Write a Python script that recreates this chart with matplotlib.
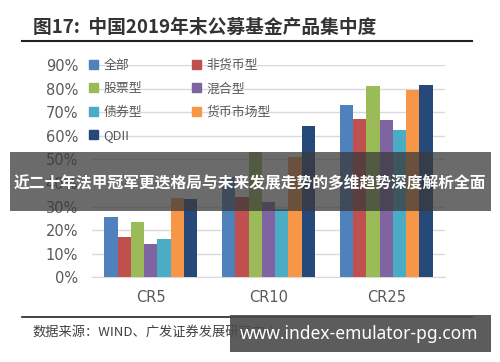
import matplotlib
matplotlib.use('Agg')
import matplotlib.pyplot as plt
import numpy as np
from matplotlib.patches import Rectangle, Patch
from matplotlib.lines import Line2D

plt.rcParams['font.family'] = ['Noto Sans CJK SC', 'DejaVu Sans']

categories = ['CR5', 'CR10', 'CR25']
series = ['全部', '非货币型', '股票型', '混合型', '债券型', '货币市场型', 'QDII']
values = [
    [25.4, 42.7, 73.2],   # 全部
    [17.0, 34.0, 67.0],   # 非货币型
    [23.4, 53.2, 81.2],   # 股票型
    [14.3, 32.0, 66.8],   # 混合型
    [16.3, 29.0, 62.5],   # 债券型
    [33.6, 51.0, 79.5],   # 货币市场型
    [33.0, 64.2, 81.6],   # QDII
]
colors = ['#4F81BD', '#C0504D', '#9BBB59', '#8064A2', '#4BACC6', '#F79646', '#27497A']
yticks = [0, 10, 20, 30, 40, 50, 60, 70, 80, 90]

fig = plt.figure(figsize=(5, 3.62), dpi=100)
ax = fig.add_axes([92/500, 1-277.3/362, 353/500, (277.3-65)/362])

x = np.arange(len(categories))
w = 0.113
for i, (name, vals) in enumerate(zip(series, values)):
    ax.bar(x + (i - 3) * w, vals, width=w, color=colors[i], label=name, zorder=3)

ax.set_xlim(-0.5, 2.5)
ax.set_ylim(0, 90)
ax.set_yticks(yticks)
ax.set_yticklabels([f'{t}%' for t in yticks], family='DejaVu Sans')
ax.set_xticks(x)
ax.set_xticklabels(categories, family='DejaVu Sans')
ax.tick_params(length=0, labelsize=10.5, colors='#595959')
ax.tick_params(axis='y', pad=10)
ax.tick_params(axis='x', pad=9)
ax.grid(axis='y', color='#D9D9D9', lw=1, zorder=0)
for s in ['top', 'right', 'left']:
    ax.spines[s].set_visible(False)
ax.spines['bottom'].set_color('#D9D9D9')

# legend in row-major order like the original
order = [0, 2, 4, 6, 1, 3, 5]
fig.legend([Patch(color=colors[k]) for k in order], [series[k] for k in order],
           ncol=2, loc='upper left', bbox_to_anchor=(89/500, 1-59/362),
           frameon=False, fontsize=9.3, handlelength=0.7, handleheight=0.7,
           handletextpad=0.4, labelspacing=0.8, columnspacing=3.9,
           borderpad=0, borderaxespad=0, labelcolor='#595959')

# title + rules
fig.text(33/500, 1-27/362, '图17:  中国2019年末公募基金产品集中度', fontsize=13.5,
         fontweight='bold', color='#333333', va='center')
fig.add_artist(Line2D([22/500, 472/500], [1-41/362, 1-41/362], color='#222222', lw=1.5))
fig.add_artist(Line2D([22/500, 472/500], [1-317/362, 1-317/362], color='#222222', lw=1.2))
fig.text(32/500, 1-332/362, '数据来源：WIND、广发证券发展研究中心', fontsize=9.5,
         color='#404040', va='center')

# overlay banner
fig.add_artist(Rectangle((10/500, 1-211/362), 481/500, 59/362, transform=fig.transFigure,
                         facecolor='#3a3a3a', alpha=0.75, edgecolor='none', zorder=10))
fig.text(250/500, 1-183/362, '近二十年法甲冠军更迭格局与未来发展走势的多维趋势深度解析全面',
         fontsize=11.3, fontweight='bold', color='white', ha='center', va='center', zorder=11)

# watermark
fig.add_artist(Rectangle((230/500, 1-352/362), 261/500, 37/362, transform=fig.transFigure,
                         facecolor='#4a4a4a', alpha=0.9, edgecolor='none', zorder=10))
fig.text(359/500, 1-334/362, 'www.index-emulator-pg.com', fontsize=12.5, fontweight='bold',
         color='white', ha='center', va='center', zorder=11, family=['Noto Sans', 'DejaVu Sans'])

fig.savefig('out.png', dpi=100, facecolor='white')
